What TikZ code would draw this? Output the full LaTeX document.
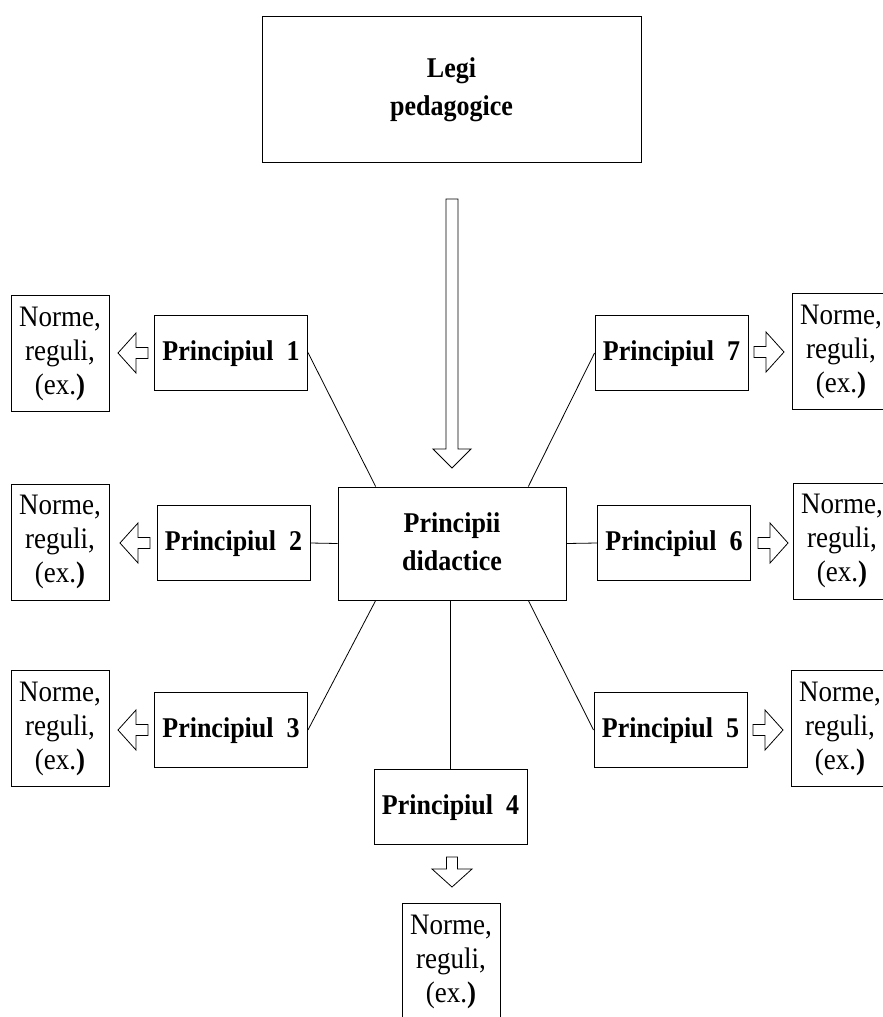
\documentclass[tikz,border=0pt]{standalone}
\usepackage{fontspec}
\usepackage{graphicx}
\setmainfont{Liberation Serif}
\usetikzlibrary{calc}

\tikzset{
  lawbox/.style={draw, line width=0.9pt, minimum width=379pt, minimum height=146pt, inner sep=0pt, font=\bfseries\fontsize{26}{34.5}\selectfont},
  didbox/.style={draw, line width=0.9pt, minimum width=228pt, minimum height=113pt, inner sep=0pt, font=\bfseries\fontsize{26}{34.5}\selectfont},
  princbox/.style={draw, line width=0.9pt, minimum width=153pt, minimum height=75pt, inner sep=0pt, font=\bfseries\fontsize{26}{34.5}\selectfont},
  normbox/.style={draw, line width=0.9pt, minimum width=98pt, minimum height=116pt, inner sep=0pt, font=\fontsize{27}{31}\selectfont},
  link/.style={line width=0.8pt},
  blockarrow/.pic={\draw[line width=0.8pt] (0,-5.5) -- (12,-5.5) -- (12,-20) -- (30,0) -- (12,20) -- (12,5.5) -- (0,5.5) -- cycle;}
}
\newcommand{\tall}[1]{\scalebox{1}[1.1]{\begin{tabular}{@{}c@{}}#1\end{tabular}}}
\newcommand{\normtext}{\tall{Norme,\\ reguli,\\ (ex.\textbf{)}}}

\begin{document}
\begin{tikzpicture}[x=1pt, y=-1pt]
    \clip (0,0) rectangle (883,1017);

    % Laws and didactic principles
    \node[lawbox] (legi) at (451.5, 89) {\tall{Legi\\ pedagogice}};
    \node[didbox] (main) at (452, 543.5) {\tall{Principii\\ didactice}};

    % Big arrow
    \draw[line width=0.9pt] (446,199) -- (458,199) -- (458,449) -- (471,449) -- (452,468) -- (433,449) -- (446,449) -- cycle;

    % Principles
    \node[princbox] (p1) at (231, 352.5) {\tall{Principiul~~1}};
    \node[princbox] (p2) at (233.5, 543) {\tall{Principiul~~2}};
    \node[princbox] (p3) at (231, 730) {\tall{Principiul~~3}};
    \node[princbox] (p4) at (450.5, 806.5) {\tall{Principiul~~4}};
    \node[princbox] (p5) at (670.5, 730) {\tall{Principiul~~5}};
    \node[princbox] (p6) at (674, 543) {\tall{Principiul~~6}};
    \node[princbox] (p7) at (671.5, 353) {\tall{Principiul~~7}};

    % Links to the centre
    \draw[link] (p1.east) -- ($(main.north west)!1/6!(main.north east)$);
    \draw[link] (p2.east) -- (main.west);
    \draw[link] (p3.east) -- ($(main.south west)!1/6!(main.south east)$);
    \draw[link] (p4.north) -- (p4.north |- main.south);
    \draw[link] (p5.west) -- ($(main.south west)!5/6!(main.south east)$);
    \draw[link] (p6.west) -- (main.east);
    \draw[link] (p7.west) -- ($(main.north west)!5/6!(main.north east)$);

    % Norms
    \node[normbox] (n1) at (60, 353.5) {\normtext};
    \node[normbox] (n2) at (60, 542) {\normtext};
    \node[normbox] (n3) at (60, 728.5) {\normtext};
    \node[normbox] (n4) at (451, 961.5) {\normtext};
    \node[normbox] (n5) at (840, 728.5) {\normtext};
    \node[normbox] (n6) at (842, 541) {\normtext};
    \node[normbox] (n7) at (841, 351.5) {\normtext};

    % Small arrows
    \pic[rotate=180] at (148, 353) {blockarrow};
    \pic[rotate=180] at (150, 543) {blockarrow};
    \pic[rotate=180] at (148, 730) {blockarrow};
    \pic[rotate=-90] at (452, 857) {blockarrow};
    \pic at (753, 730) {blockarrow};
    \pic at (758, 543) {blockarrow};
    \pic at (754, 352) {blockarrow};
\end{tikzpicture}
\end{document}
